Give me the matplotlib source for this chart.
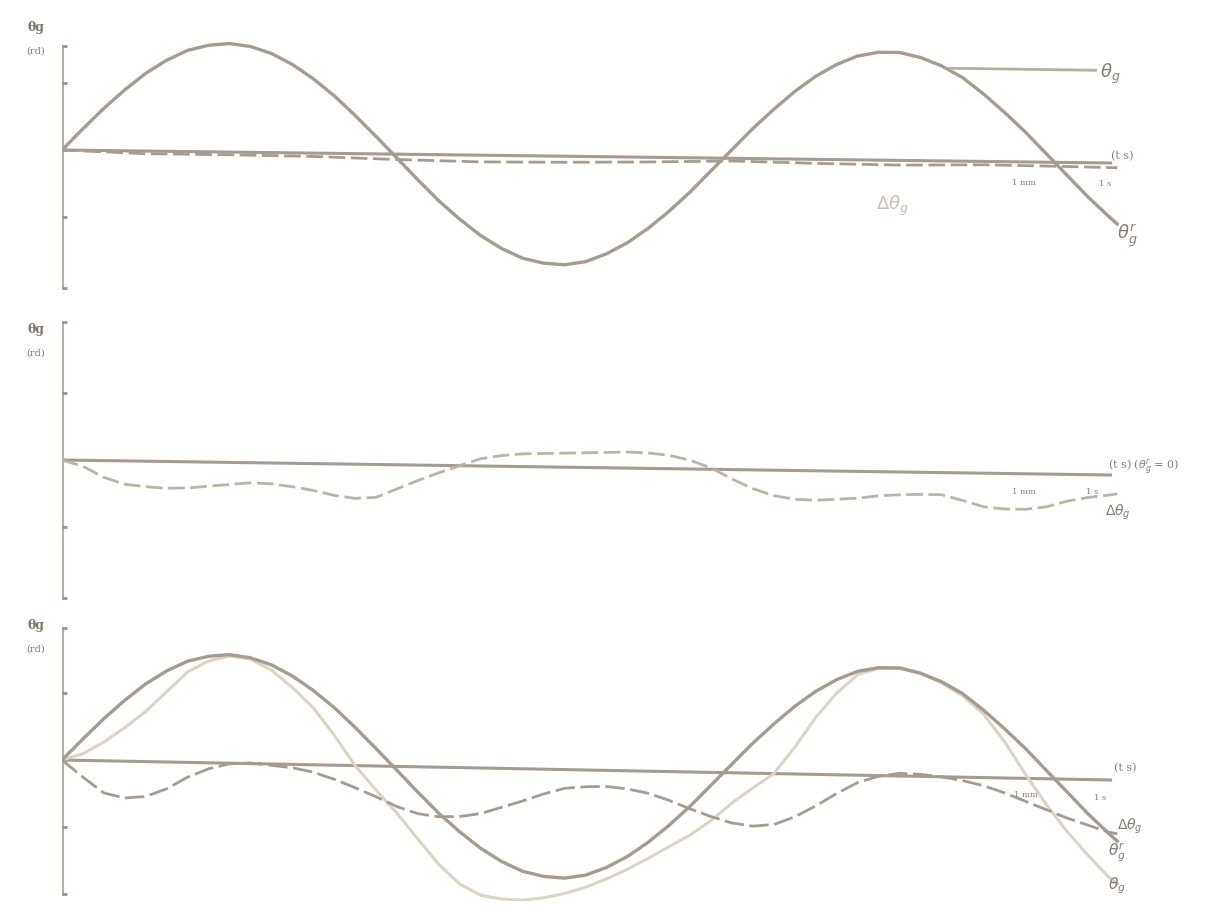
import numpy as np
import matplotlib
matplotlib.use("Agg")
import matplotlib.pyplot as plt
import matplotlib.transforms as mtransforms

# time grid (s), read every 0.125 s, last reading at 6.3 s
t = np.append(np.arange(0, 6.26, 0.125), 6.3)
# coarser grid for the almost-flat top error trace
t_coarse = [0.0, 0.5, 1.0, 1.5, 2.0, 2.5, 3.0, 3.5, 4.0, 4.5, 5.0, 5.5, 6.0, 6.3]

# reference angle theta_g^r (same in top and bottom panels)
theta_ref = [0.0, 0.32, 0.63, 0.91, 1.16, 1.36, 1.51, 1.59, 1.62, 1.58, 1.48,
             1.32, 1.11, 0.86, 0.57, 0.26, -0.06, -0.38, -0.69, -0.96, -1.20,
             -1.39, -1.53, -1.60, -1.62, -1.57, -1.45, -1.28, -1.06, -0.80,
             -0.51, -0.19, 0.13, 0.45, 0.74, 1.01, 1.24, 1.42, 1.55, 1.61, 1.61,
             1.54, 1.42, 1.25, 1.01, 0.74, 0.45, 0.13, -0.19, -0.51, -0.80, -0.91]

# top panel error (almost zero)
dtheta_top = [0.0, -0.04, -0.04, -0.05, -0.08, -0.10, -0.09, -0.07, -0.04,
              -0.06, -0.07, -0.05, -0.06, -0.07]

# middle panel error with theta_g^r = 0
dtheta_mid = [0.0, -0.09, -0.25, -0.35, -0.38, -0.40, -0.39, -0.36, -0.33,
              -0.30, -0.31, -0.35, -0.40, -0.47, -0.51, -0.49, -0.36, -0.23,
              -0.11, 0.0, 0.11, 0.16, 0.19, 0.20, 0.21, 0.22, 0.23, 0.24, 0.23,
              0.20, 0.13, 0.02, -0.14, -0.28, -0.38, -0.43, -0.44, -0.42, -0.40,
              -0.36, -0.34, -0.33, -0.33, -0.41, -0.50, -0.53, -0.53, -0.49,
              -0.40, -0.34, -0.30, -0.28]

# bottom panel: actual angle and error
theta_bot = [0.0, 0.10, 0.28, 0.50, 0.75, 1.05, 1.35, 1.52, 1.60, 1.56, 1.40,
             1.15, 0.85, 0.45, 0.0, -0.36, -0.70, -1.08, -1.45, -1.74, -1.90,
             -1.95, -1.96, -1.92, -1.85, -1.75, -1.62, -1.47, -1.30, -1.12,
             -0.94, -0.72, -0.45, -0.22, 0.0, 0.40, 0.85, 1.22, 1.50, 1.60, 1.62,
             1.54, 1.40, 1.22, 0.95, 0.55, 0.07, -0.38, -0.78, -1.13, -1.45, -1.55]
dtheta_bot = [0.0, -0.25, -0.48, -0.55, -0.52, -0.40, -0.22, -0.09, -0.01, 0.01,
              -0.02, -0.05, -0.11, -0.21, -0.33, -0.46, -0.60, -0.70, -0.74,
              -0.73, -0.68, -0.58, -0.48, -0.37, -0.28, -0.25, -0.24, -0.27,
              -0.33, -0.43, -0.55, -0.66, -0.75, -0.79, -0.76, -0.64, -0.47,
              -0.28, -0.11, -0.01, 0.04, 0.03, 0.0, -0.05, -0.12, -0.22, -0.34,
              -0.46, -0.58, -0.68, -0.78, -0.80]

line_c = "#a59b8f"
light_c = "#dcd3c4"
axis_c = "#b8ae9f"
text_c = "#857c72"

plt.rcParams["font.family"] = ["DejaVu Serif"]

W, H = 1230, 908
PX_T = 167.5     # px per second
PX_U = 67.0      # px per unit
fig = plt.figure(figsize=(W / 100, H / 100), dpi=100)


def make_panel(zero_px, ylo, yhi, skew_px):
    left = 62 / W
    width = 6.9 * PX_T / W
    bottom = 1 - (zero_px - ylo * PX_U) / H
    height = (yhi - ylo) * PX_U / H
    ax = fig.add_axes([left, bottom, width, height])
    ax.set_xlim(0, 6.9)
    ax.set_ylim(ylo, yhi)
    ax.axis("off")
    # the scanned baseline is slightly tilted
    k = (skew_px / PX_U) / (1048 / PX_T)
    tr = mtransforms.Affine2D().skew(0, np.arctan(-k)) + ax.transData
    return ax, tr


def draw_axes(ax, tr, ytop, ybot):
    ax.plot([0, 0], [ybot, ytop], color=axis_c, lw=2.2, solid_capstyle="butt")
    ax.plot([0, 0, 0, 0, 0], [ytop, 1, 0, -1, ybot], ls="none", marker="_",
            ms=7, mew=2, color="#9e9588")
    ax.plot([0, 6.26], [0, 0], color=line_c, lw=2.2, transform=tr)


def label(x, y, s, size=12, color=text_c, ha="center", **kw):
    fig.text(x / W, 1 - y / H, s, fontsize=size, color=color, ha=ha,
             va="center", **kw)


# ---- top panel ----
ax1, tr1 = make_panel(150, -2.3, 2.1, 13)
draw_axes(ax1, tr1, 1.55, -2.06)
ax1.plot(t_coarse, dtheta_top, color=line_c, lw=2, ls=(0, (6, 2)), transform=tr1)
ax1.plot(t, theta_ref, color=line_c, lw=2.4, transform=tr1)
ax1.plot([5.30, 6.17], [1.22, 1.19], color=axis_c, lw=2)

# ---- middle panel ----
ax2, tr2 = make_panel(460, -2.3, 2.3, 15)
draw_axes(ax2, tr2, 2.06, -2.06)
ax2.plot(t, dtheta_mid, color="#bdb3a5", lw=2, ls=(0, (6, 2)), transform=tr2)

# ---- bottom panel ----
ax3, tr3 = make_panel(760, -2.1, 2.1, 20)
draw_axes(ax3, tr3, 1.97, -2.0)
ax3.plot(t, theta_bot, color=light_c, lw=2.2, transform=tr3)
ax3.plot(t, theta_ref, color=line_c, lw=2.4, transform=tr3)
ax3.plot(t, dtheta_bot, color=line_c, lw=2, ls=(0, (7, 2)), transform=tr3)

# ---- texts ----
for yy in (28, 330, 626):
    label(36, yy, "θg", size=9, color="#7d746a", weight="bold")
    label(36, yy + 23, "(rd)", size=7)

label(1110, 74, r"$\theta_g$", size=13)
label(1122, 156, "(t s)", size=8)
label(1024, 183, "1 mm", size=6)
label(1105, 184, "1 s", size=6)
label(892, 206, r"$\Delta\theta_g$", size=13, color="#c9bfb0")
label(1127, 236, r"$\theta_g^r$", size=13)

label(1108, 467, r"(t s) ($\theta_g^r$ = 0)", size=8, ha="left")
label(1024, 492, "1 mm", size=6)
label(1092, 492, "1 s", size=6)
label(1118, 512, r"$\Delta\theta_g$", size=10)

label(1125, 768, "(t s)", size=8)
label(1026, 795, "1 mm", size=6)
label(1100, 798, "1 s", size=6)
label(1130, 826, r"$\Delta\theta_g$", size=10)
label(1117, 852, r"$\theta_g^r$", size=11)
label(1117, 886, r"$\theta_g$", size=11)

fig.savefig("out.png", dpi=100)
